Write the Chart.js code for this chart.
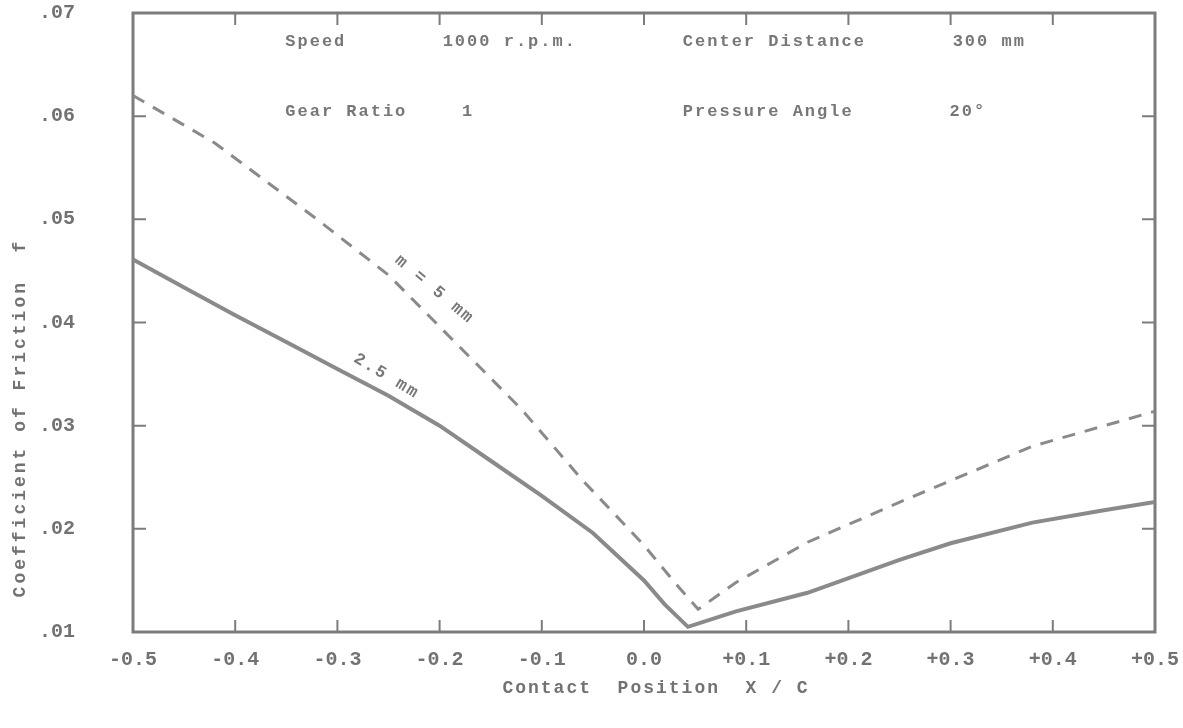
<!DOCTYPE html>
<html>
<head>
<meta charset="utf-8">
<script src="https://cdn.jsdelivr.net/npm/chart.js@4/dist/chart.umd.min.js"></script>
<style>
  html, body { margin: 0; padding: 0; background: #fff; }
  #wrap { width: 1183px; height: 728px; }
</style>
</head>
<body>
<div id="wrap"><canvas id="friction"></canvas></div>
<script>
'use strict';

const ink = "#7c7c7c";
const lineInk = "#8a8a8a";
const textInk = "#727272";
const font = "'Liberation Mono', 'DejaVu Sans Mono', monospace";

// contact position X / C
const xSolid = [-0.5, -0.45, -0.4, -0.35, -0.3, -0.25, -0.2, -0.15, -0.1, -0.05, 0.0, 0.02, 0.043, 0.09, 0.16, 0.25, 0.3, 0.38, 0.45, 0.5];
const ySolid = [0.0461, 0.0434, 0.0407, 0.0381, 0.0355, 0.0329, 0.0300, 0.0266, 0.0232, 0.0196, 0.0150, 0.0127, 0.0105, 0.0120, 0.0138, 0.0170, 0.0186, 0.0206, 0.0218, 0.0226];

const xDashed = [-0.5, -0.42, -0.32, -0.25, -0.19, -0.12, -0.06, 0.0, 0.03, 0.053, 0.09, 0.16, 0.26, 0.38, 0.5];
const yDashed = [0.0620, 0.0574, 0.0500, 0.0446, 0.0386, 0.0316, 0.0247, 0.0184, 0.0148, 0.0122, 0.0148, 0.0187, 0.0230, 0.0280, 0.0314];

const seriesNames = ["2.5 mm", "m = 5 mm"];
const headerRow1 = ["Speed", "1000 r.p.m.", "Center Distance", "300 mm"];
const headerRow2 = ["Gear Ratio", "1", "Pressure Angle", "20\u00b0"];
const xTitle = "Contact  Position  X / C";
const yTitle = "Coefficient of Friction  f";

function pts(xs, ys){
    return xs.map((x, i) => ({x: x, y: ys[i]}));
}

// text placed in data coordinates
const notes = [
    {text: headerRow1[0], x: -0.351, y: 0.0672},
    {text: headerRow1[1], x: -0.197, y: 0.0672},
    {text: headerRow1[2], x: 0.038, y: 0.0672},
    {text: headerRow1[3], x: 0.302, y: 0.0672},
    {text: headerRow2[0], x: -0.351, y: 0.0604},
    {text: headerRow2[1], x: -0.178, y: 0.0604},
    {text: headerRow2[2], x: 0.038, y: 0.0604},
    {text: headerRow2[3], x: 0.299, y: 0.0604}
];
const curveLabels = [
    {text: seriesNames[1], x: -0.205, y: 0.0432, angle: 40},
    {text: seriesNames[0], x: -0.252, y: 0.0348, angle: 31}
];

const frame = {
    id: 'frame',
    beforeDatasetsDraw(chart){
        const {ctx, chartArea: a, scales: {x, y}} = chart;
        ctx.save();
        ctx.strokeStyle = ink;
        ctx.lineWidth = 3;
        ctx.strokeRect(a.left, a.top, a.width, a.height);
        ctx.lineWidth = 2;
        ctx.beginPath();
        x.ticks.forEach(t => {
            if(Math.abs(Math.abs(t.value) - 0.5) < 1e-6) return;
            const px = x.getPixelForValue(t.value);
            ctx.moveTo(px, a.top); ctx.lineTo(px, a.top + 12);
            ctx.moveTo(px, a.bottom); ctx.lineTo(px, a.bottom - 12);
        });
        y.ticks.forEach(t => {
            if(t.value < 0.0101 || t.value > 0.0699) return;
            const py = y.getPixelForValue(t.value);
            ctx.moveTo(a.left, py); ctx.lineTo(a.left + 13, py);
            ctx.moveTo(a.right, py); ctx.lineTo(a.right - 13, py);
        });
        ctx.stroke();

        // axis titles
        ctx.fillStyle = textInk;
        ctx.font = "bold 18px " + font;
        ctx.letterSpacing = "2px";
        ctx.textAlign = "center";
        ctx.textBaseline = "middle";
        ctx.fillText(xTitle, 656, 688);
        ctx.save();
        ctx.translate(20, 418);
        ctx.rotate(-Math.PI / 2);
        ctx.letterSpacing = "3px";
        ctx.fillText(yTitle, 0, 0);
        ctx.restore();
        ctx.restore();
    },
    afterDatasetsDraw(chart){
        const {ctx, scales: {x, y}} = chart;
        ctx.save();
        ctx.fillStyle = "#777";
        ctx.font = "bold 17px " + font;
        ctx.letterSpacing = "2px";
        ctx.textBaseline = "middle";
        ctx.textAlign = "left";
        notes.forEach(n => {
            ctx.fillText(n.text, x.getPixelForValue(n.x), y.getPixelForValue(n.y));
        });
        ctx.textAlign = "center";
        curveLabels.forEach(n => {
            ctx.save();
            ctx.translate(x.getPixelForValue(n.x), y.getPixelForValue(n.y));
            ctx.rotate(n.angle * Math.PI / 180);
            ctx.fillText(n.text, 0, 0);
            ctx.restore();
        });
        ctx.restore();
    }
};

new Chart(document.getElementById('friction'), {
    type: 'line',
    data: {
        datasets: [{
            label: seriesNames[0],
            data: pts(xSolid, ySolid),
            borderColor: lineInk,
            borderWidth: 4,
            pointRadius: 0,
            tension: 0
        }, {
            label: seriesNames[1],
            data: pts(xDashed, yDashed),
            borderColor: lineInk,
            borderWidth: 3,
            borderDash: [13, 10],
            pointRadius: 0,
            tension: 0
        }]
    },
    options: {
        responsive: true,
        maintainAspectRatio: false,
        animation: false,
        layout: {padding: {left: 0, right: 28, top: 13, bottom: 0}},
        plugins: {legend: {display: false}, tooltip: {enabled: false}},
        scales: {
            x: {
                type: 'linear',
                min: -0.5,
                max: 0.5,
                grid: {display: false, drawTicks: false},
                border: {display: false},
                ticks: {
                    stepSize: 0.1,
                    padding: 16,
                    color: textInk,
                    font: {family: font, size: 20, weight: 'bold'},
                    callback: v => {
                        const s = Math.abs(v).toFixed(1);
                        if(Math.abs(v) < 1e-9) return "0.0";
                        return (v < 0 ? "-" : "+") + s;
                    }
                },
                afterFit: s => {
                    s.height = 96;
                    s.paddingLeft = 0;
                    s.paddingRight = 0;
                }
            },
            y: {
                type: 'linear',
                min: 0.01,
                max: 0.07,
                grid: {display: false, drawTicks: false},
                border: {display: false},
                ticks: {
                    stepSize: 0.01,
                    padding: 58,
                    color: textInk,
                    font: {family: font, size: 20, weight: 'bold'},
                    callback: v => v.toFixed(2).slice(1)
                },
                afterFit: s => {
                    s.width = 133;
                    s.paddingTop = 0;
                    s.paddingBottom = 0;
                }
            }
        }
    },
    plugins: [frame]
});
</script>
</body>
</html>
